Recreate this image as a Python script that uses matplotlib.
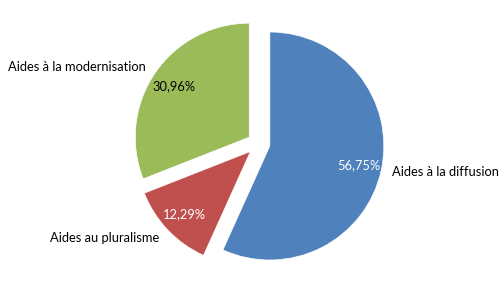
import matplotlib
matplotlib.use("Agg")
import matplotlib.pyplot as plt

# données
categories = ["Aides à la diffusion", "Aides au pluralisme", "Aides à la modernisation"]
parts = [56.75, 12.29, 30.96]
couleurs = ["#4F81BD", "#C0504D", "#9BBB59"]
couleurs_pct = ["white", "white", "black"]

plt.rcParams['font.family'] = ['Lato', 'DejaVu Sans']

fig = plt.figure(figsize=(5.04, 2.86), dpi=100)
# axe carré centré sur le camembert (rayon ~114 px)
r_px = 114
cx, cy = 258.7, 286 - 143.6
ax = fig.add_axes([(cx - r_px) / 504, (cy - r_px) / 286, 2 * r_px / 504, 2 * r_px / 286])

def fmt_pct(p):
    return ("%.2f" % p).replace(".", ",") + "%"

wedges, textes, pcts = ax.pie(parts, labels=categories, colors=couleurs,
                              explode=[0.1, 0.1, 0.1], startangle=90, counterclock=False,
                              autopct=fmt_pct, pctdistance=0.8, labeldistance=1.1,
                              wedgeprops=dict(edgecolor="white", linewidth=0.5),
                              textprops=dict(fontsize=9.3, color="black"))
for t, c in zip(pcts, couleurs_pct):
    t.set_color(c)

ax.set_xlim(-1, 1)
ax.set_ylim(-1, 1)
ax.set_aspect("auto")
ax.axis("off")

fig.savefig("out.png", dpi=100)
